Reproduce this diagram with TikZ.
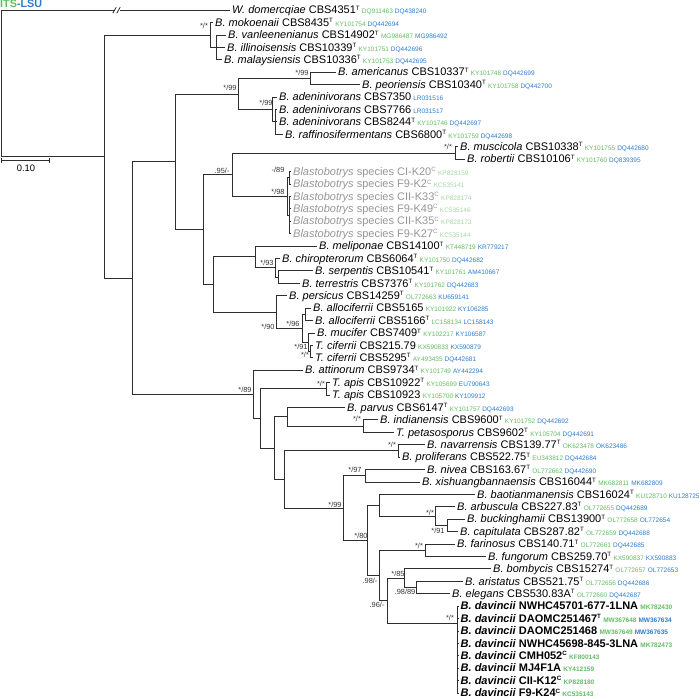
\documentclass[tikz,border=0pt]{standalone}
\usepackage{fontspec}
\setmainfont{Liberation Sans}
\definecolor{itsg}{RGB}{96,190,96}
\definecolor{lsub}{RGB}{45,125,205}
\definecolor{gtx}{RGB}{150,150,150}
\definecolor{gacc}{RGB}{165,215,165}
\newcommand{\Tsup}{\raisebox{3.6pt}{\fontsize{6.2}{6}\selectfont T}}
\newcommand{\Csup}{\raisebox{3.6pt}{\fontsize{6.2}{6}\selectfont C}}
\newcommand{\ia}[1]{\hspace{2.3pt}{\fontsize{6.5}{7}\selectfont\color{itsg}#1}}
\newcommand{\la}[1]{\hspace{2.0pt}{\fontsize{6.5}{7}\selectfont\color{lsub}#1}}
\newcommand{\ga}[1]{\hspace{2.3pt}{\fontsize{6.5}{7}\selectfont\color{gacc}#1}}
\tikzset{
  br/.style={draw=black!82, line width=0.95pt},
  lab/.style={anchor=base west, inner sep=0pt, xshift=2pt, yshift=-3.7pt, font=\fontsize{11}{13}\selectfont},
  sup/.style={inner sep=0pt, text=black!80, font=\fontsize{7.4}{8}\selectfont},
}
\begin{document}
\begin{tikzpicture}[x=1pt,y=-0.9972pt]
\useasboundingbox (0,0) rectangle (700,700.96);
% header
\node[anchor=base west, inner sep=0pt, font=\bfseries\fontsize{10.8}{12}\selectfont] (hdr) at (0,8) {\textcolor{itsg}{ITS}\textcolor{lsub}{-LSU}};
% tips
\coordinate (tW) at (230,10.25);
\foreach \i/\x in {0/213,1/226,2/225,3/222,4/336,5/360,6/277,7/277,8/277,9/283,
  10/458,11/465,12/291,13/291,14/291,15/291,16/291,17/291,18/317,19/280,
  20/313,21/300,22/287,23/311,24/313,25/315,26/313,27/313,28/303,29/330,
  30/330,31/345,32/378,33/394,34/425,35/400,36/425,37/420,38/475,39/455,
  40/465,41/458,42/455,43/486,44/491,45/463,46/450,47/458.5,48/458.5,49/458.5,
  50/458.5,51/458.5,52/458.5,53/458.5,54/458.5}
  \coordinate (t\i) at (\x,{22.7+12.45*\i});
% internal nodes
\coordinate (R) at (1,83.6);
\coordinate (N1) at (104,157.02);
\coordinate (A) at (210,35.15);
\coordinate (B) at (216,47.6);
\coordinate (N2) at (132,278.89);
\coordinate (N3) at (175,162.28);
\coordinate (N5) at (238,94.29);
\coordinate (N7) at (310,78.725);
\coordinate (N8) at (272,109.85);
\coordinate (N8b) at (275,122.3);
\coordinate (N6) at (203,230.26);
\coordinate (N9) at (232,175.21);
\coordinate (N11) at (455,153.425);
\coordinate (N12) at (287,197);
\coordinate (N12a) at (289,178.325);
\coordinate (N12b) at (289,215.675);
\coordinate (N10) at (213,285.32);
\coordinate (N13) at (255,257.69);
\coordinate (N15) at (275,268.59);
\coordinate (N16) at (278,277.925);
\coordinate (N14) at (276,312.94);
\coordinate (N17) at (302,329.28);
\coordinate (N18) at (305,315.275);
\coordinate (N19) at (308,343.29);
\coordinate (N20) at (310,352.625);
\coordinate (N4) at (253,395.5);
\coordinate (N22) at (260,419.7);
\coordinate (N23) at (326,389.975);
\coordinate (N24) at (274,449.43);
\coordinate (N25) at (287,417.99);
\coordinate (N26) at (363,427.325);
\coordinate (N27) at (284,480.86);
\coordinate (N28) at (398,452.225);
\coordinate (N29) at (343,509.5);
\coordinate (N30) at (365,477.125);
\coordinate (N31) at (367,541.9);
\coordinate (N32) at (379,506.69);
\coordinate (N34) at (435,517.59);
\coordinate (N35) at (447,526.925);
\coordinate (N37) at (379,577.12);
\coordinate (N36) at (425,551.825);
\coordinate (N40) at (387,602.42);
\coordinate (N38) at (404,579.84);
\coordinate (N39) at (416,589.175);
\coordinate (N41) at (457,625);
% branches
\foreach \p/\c in {R/tW,R/N1,N1/A,N1/N2,A/t0,A/B,B/t1,B/t2,B/t3,N2/N3,N2/N4,
  N3/N5,N3/N6,N5/N7,N5/N8,N7/t4,N7/t5,N8/t6,N8/N8b,N8b/t7,N8b/t8,N8b/t9,
  N6/N9,N6/N10,N9/N11,N9/N12,N11/t10,N11/t11,N12/N12a,N12/N12b,N12a/t12,N12a/t13,
  N12b/t14,N12b/t15,N12b/t16,N12b/t17,N10/N13,N10/N14,N13/t18,N13/N15,N15/t19,N15/N16,
  N16/t20,N16/t21,N14/t22,N14/N17,N17/N18,N17/N19,N18/t23,N18/t24,N19/t25,N19/N20,
  N20/t26,N20/t27,N4/t28,N4/N22,N22/N23,N22/N24,N23/t29,N23/t30,N24/N25,N24/N27,
  N25/t31,N25/N26,N26/t32,N26/t33,N27/N28,N27/N29,N28/t34,N28/t35,N29/N30,N29/N31,
  N30/t36,N30/t37,N31/N32,N31/N37,N32/t38,N32/N34,N34/t39,N34/N35,N35/t40,N35/t41,
  N37/N36,N37/N40,N36/t42,N36/t43,N40/N38,N40/N41,N38/t44,N38/N39,N39/t45,N39/t46,
  N41/t47,N41/t48,N41/t49,N41/t50,N41/t51,N41/t52,N41/t53,N41/t54}
  \draw[br] (\p) |- (\c);
% break mark on the outgroup branch
\fill[white] (114.5,6) rectangle (119.5,14.5);
\draw[black!82, line width=0.8pt] (112.8,13.2) -- (116.2,7.3) (116.8,13.2) -- (120.2,7.3);
% scale bar
\coordinate (sb1) at (1,161);
\coordinate (sb2) at (49,161);
\draw[br, line width=0.8pt] (sb1) -- (sb2);
\draw[br, line width=0.8pt] ([yshift=2.5pt]sb1) -- ([yshift=-2.5pt]sb1) ([yshift=2.5pt]sb2) -- ([yshift=-2.5pt]sb2);
\node[inner sep=0pt, font=\fontsize{9.4}{10}\selectfont] (sbl) at (26,168.5) {0.10};
% labels
\node[lab] (LW) at (tW) {\textit{W. domercqiae} CBS4351\Tsup\ia{DQ911463}\la{DQ438240}};
\node[lab] (L0) at (t0) {\textit{B. mokoenaii} CBS8435\Tsup\ia{KY101754}\la{DQ442694}};
\node[lab] (L1) at (t1) {\textit{B. vanleenenianus} CBS14902\Tsup\ia{MG986487}\la{MG986492}};
\node[lab] (L2) at (t2) {\textit{B. illinoisensis} CBS10339\Tsup\ia{KY101751}\la{DQ442696}};
\node[lab] (L3) at (t3) {\textit{B. malaysiensis} CBS10336\Tsup\ia{KY101753}\la{DQ442695}};
\node[lab] (L4) at (t4) {\textit{B. americanus} CBS10337\Tsup\ia{KY101748}\la{DQ442699}};
\node[lab] (L5) at (t5) {\textit{B. peoriensis} CBS10340\Tsup\ia{KY101758}\la{DQ442700}};
\node[lab] (L6) at (t6) {\textit{B. adeninivorans} CBS7350\la{LR031516}};
\node[lab] (L7) at (t7) {\textit{B. adeninivorans} CBS7766\la{LR031517}};
\node[lab] (L8) at (t8) {\textit{B. adeninivorans} CBS8244\Tsup\ia{KY101746}\la{DQ442697}};
\node[lab] (L9) at (t9) {\textit{B. raffinosifermentans} CBS6800\Tsup\ia{KY101759}\la{DQ442698}};
\node[lab] (L10) at (t10) {\textit{B. muscicola} CBS10338\Tsup\ia{KY101755}\la{DQ442680}};
\node[lab] (L11) at (t11) {\textit{B. robertii} CBS10106\Tsup\ia{KY101760}\la{DQ839395}};
\node[lab] (L12) at (t12) {\color{gtx}\textit{Blastobotrys} species CI-K20\Csup\ga{KP828159}};
\node[lab] (L13) at (t13) {\color{gtx}\textit{Blastobotrys} species F9-K2\Csup\ga{KC535141}};
\node[lab] (L14) at (t14) {\color{gtx}\textit{Blastobotrys} species CII-K33\Csup\ga{KP828174}};
\node[lab] (L15) at (t15) {\color{gtx}\textit{Blastobotrys} species F9-K49\Csup\ga{KC535146}};
\node[lab] (L16) at (t16) {\color{gtx}\textit{Blastobotrys} species CII-K35\Csup\ga{KP828173}};
\node[lab] (L17) at (t17) {\color{gtx}\textit{Blastobotrys} species F9-K27\Csup\ga{KC535144}};
\node[lab] (L18) at (t18) {\textit{B. meliponae} CBS14100\Tsup\ia{KT448719}\la{KR779217}};
\node[lab] (L19) at (t19) {\textit{B. chiropterorum} CBS6064\Tsup\ia{KY101750}\la{DQ442682}};
\node[lab] (L20) at (t20) {\textit{B. serpentis} CBS10541\Tsup\ia{KY101761}\la{AM410667}};
\node[lab] (L21) at (t21) {\textit{B. terrestris} CBS7376\Tsup\ia{KY101762}\la{DQ442683}};
\node[lab] (L22) at (t22) {\textit{B. persicus} CBS14259\Tsup\ia{OL772663}\la{KU659141}};
\node[lab] (L23) at (t23) {\textit{B. allociferrii} CBS5165\ia{KY101922}\la{KY106285}};
\node[lab] (L24) at (t24) {\textit{B. allociferrii} CBS5166\Tsup\ia{LC158134}\la{LC158143}};
\node[lab] (L25) at (t25) {\textit{B. mucifer} CBS7409\Tsup\ia{KY102217}\la{KY106587}};
\node[lab] (L26) at (t26) {\textit{T. ciferrii} CBS215.79\ia{KX590833}\la{KX590879}};
\node[lab] (L27) at (t27) {\textit{T. ciferrii} CBS5295\Tsup\ia{AY493435}\la{DQ442681}};
\node[lab] (L28) at (t28) {\textit{B. attinorum} CBS9734\Tsup\ia{KY101749}\la{AY442294}};
\node[lab] (L29) at (t29) {\textit{T. apis} CBS10922\Tsup\ia{KY105699}\la{EU790643}};
\node[lab] (L30) at (t30) {\textit{T. apis} CBS10923\ia{KY105700}\la{KY109912}};
\node[lab] (L31) at (t31) {\textit{B. parvus} CBS6147\Tsup\ia{KY101757}\la{DQ442693}};
\node[lab] (L32) at (t32) {\textit{B. indianensis} CBS9600\Tsup\ia{KY101752}\la{DQ442692}};
\node[lab] (L33) at (t33) {\textit{T. petasosporus} CBS9602\Tsup\ia{KY105704}\la{DQ442691}};
\node[lab] (L34) at (t34) {\textit{B. navarrensis} CBS139.77\Tsup\ia{OK623478}\la{OK623486}};
\node[lab] (L35) at (t35) {\textit{B. proliferans} CBS522.75\Tsup\ia{EU343812}\la{DQ442684}};
\node[lab] (L36) at (t36) {\textit{B. nivea} CBS163.67\Tsup\ia{OL772662}\la{DQ442690}};
\node[lab] (L37) at (t37) {\textit{B. xishuangbannaensis} CBS16044\Tsup\ia{MK682811}\la{MK682809}};
\node[lab] (L38) at (t38) {\textit{B. baotianmanensis} CBS16024\Tsup\ia{KU128710}\la{KU128725}};
\node[lab] (L39) at (t39) {\textit{B. arbuscula} CBS227.83\Tsup\ia{OL772655}\la{DQ442689}};
\node[lab] (L40) at (t40) {\textit{B. buckinghamii} CBS13900\Tsup\ia{OL772658}\la{OL772654}};
\node[lab] (L41) at (t41) {\textit{B. capitulata} CBS287.82\Tsup\ia{OL772659}\la{DQ442688}};
\node[lab] (L42) at (t42) {\textit{B. farinosus} CBS140.71\Tsup\ia{OL772661}\la{DQ442685}};
\node[lab] (L43) at (t43) {\textit{B. fungorum} CBS259.70\Tsup\ia{KX590837}\la{KX590883}};
\node[lab] (L44) at (t44) {\textit{B. bombycis} CBS15274\Tsup\ia{OL772657}\la{OL772653}};
\node[lab] (L45) at (t45) {\textit{B. aristatus} CBS521.75\Tsup\ia{OL772656}\la{DQ442686}};
\node[lab] (L46) at (t46) {\textit{B. elegans} CBS530.83A\Tsup\ia{OL772660}\la{DQ442687}};
\node[lab] (L47) at (t47) {\bfseries\textit{B. davincii} NWHC45701-677-1LNA\ia{MK782430}};
\node[lab] (L48) at (t48) {\bfseries\textit{B. davincii} DAOMC251467\Tsup\ia{MW367648}\la{MW367634}};
\node[lab] (L49) at (t49) {\bfseries\textit{B. davincii} DAOMC251468\ia{MW367649}\la{MW367635}};
\node[lab] (L50) at (t50) {\bfseries\textit{B. davincii} NWHC45698-845-3LNA\ia{MK782473}};
\node[lab] (L51) at (t51) {\bfseries\textit{B. davincii} CMH052\Csup\ia{KF800143}};
\node[lab] (L52) at (t52) {\bfseries\textit{B. davincii} MJ4F1A\ia{KY412159}};
\node[lab] (L53) at (t53) {\bfseries\textit{B. davincii} CII-K12\Csup\ia{KP828180}};
\node[lab] (L54) at (t54) {\bfseries\textit{B. davincii} F9-K24\Csup\ia{KC535143}};
% support values
\node[sup] (sA) at (204,26) {*/*};
\node[sup] (s7) at (302,73) {*/99};
\node[sup] (s5) at (230,88) {*/99};
\node[sup] (s8) at (266,103) {*/99};
\node[sup] (s9) at (222,171) {.95/-};
\node[sup] (s11) at (448,147) {*/*};
\node[sup] (s12a) at (278,170) {-/89};
\node[sup] (s12) at (278,192) {*/98};
\node[sup] (s15) at (267,264) {*/93};
\node[sup] (s14) at (268,328) {*/90};
\node[sup] (s17) at (293,325) {*/96};
\node[sup] (s19) at (301,348) {*/91};
\node[sup] (s20) at (305,356) {*/*};
\node[sup] (s4) at (245,391) {*/89};
\node[sup] (s23) at (321,385) {*/*};
\node[sup] (s26) at (357,420) {*/*};
\node[sup] (s28) at (392,446) {*/*};
\node[sup] (s29) at (335,506) {*/99};
\node[sup] (s30) at (355,471) {*/97};
\node[sup] (s31) at (361,537) {*/80};
\node[sup] (s34) at (430,514) {*/*};
\node[sup] (s35) at (438,532) {*/91};
\node[sup] (s36) at (419,547) {*/*};
\node[sup] (s38) at (398,575) {*/85};
\node[sup] (s37) at (370,582) {.98/-};
\node[sup] (s39) at (405,594) {.98/89};
\node[sup] (s40) at (377,607) {.96/-};
\node[sup] (s41) at (450,620) {*/*};
\end{tikzpicture}
\end{document}
